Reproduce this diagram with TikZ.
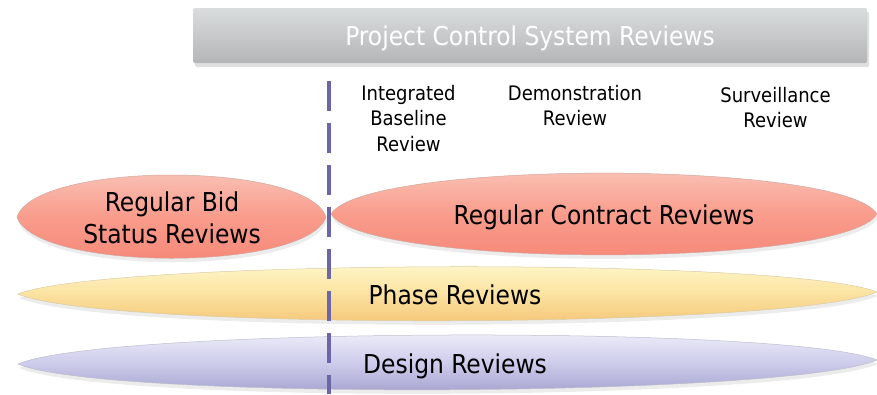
\documentclass[tikz,border=0pt]{standalone}
\usepackage{fontspec}
\setmainfont{DejaVu Sans Condensed}
\usetikzlibrary{shadows}
\definecolor{bantop}{HTML}{DADDDE}
\definecolor{banbot}{HTML}{B3B5B7}
\definecolor{redtop}{HTML}{F9CABE}
\definecolor{redmid}{HTML}{F99C8C}
\definecolor{redbot}{HTML}{F58474}
\definecolor{redline}{HTML}{D0A89F}
\definecolor{yeltop}{HTML}{FFFBD2}
\definecolor{yelmid}{HTML}{FBE2A0}
\definecolor{yelbot}{HTML}{F3BF6E}
\definecolor{yelline}{HTML}{D8CCA8}
\definecolor{blutop}{HTML}{F5F5FD}
\definecolor{blumid}{HTML}{CDCCEB}
\definecolor{blubot}{HTML}{9B99C8}
\definecolor{bluline}{HTML}{BDBDCC}
\definecolor{dashcol}{HTML}{6B66A8}
\begin{document}
\begin{tikzpicture}[x=1pt,y=-1pt]
\useasboundingbox (0,0) rectangle (877,394);
\tikzset{
  banner/.style={rectangle, minimum width=674pt, minimum height=55pt, inner sep=0pt,
    top color=bantop, bottom color=banbot, rounded corners=1.5pt, text=white,
    font=\fontsize{26}{31}\selectfont, text height=19pt, text depth=0pt,
    drop shadow={shadow xshift=2pt, shadow yshift=-4pt, opacity=0.25}},
  lens/.style={line width=0.5pt,
    drop shadow={shadow xshift=1pt, shadow yshift=-4pt, opacity=0.15}},
  redlens/.style={lens, draw=redline, top color=redtop, bottom color=redbot, middle color=redmid},
  yellens/.style={lens, draw=yelline, top color=yeltop, bottom color=yelbot, middle color=yelmid},
  blulens/.style={lens, draw=bluline, top color=blutop, bottom color=blubot, middle color=blumid},
  bigtext/.style={font=\fontsize{26}{31.5}\selectfont, align=center, inner sep=0pt, anchor=north},
  hdrtext/.style={font=\fontsize{20}{25.5}\selectfont, align=center, inner sep=0pt, anchor=north},
  divider/.style={draw=dashcol, line width=4pt, dash pattern=on 30pt off 12pt}
}
% banner
\node[banner] (pcs) at (530,35.5) {Project Control System Reviews};
% review lenses
\path[redlens] (17,217) .. controls (35.5,161) and (307.5,161) .. (326,217)
  .. controls (307.5,272) and (35.5,272) .. (17,217) -- cycle;
\path[redlens] (331,214) .. controls (364,159.5) and (844,159.5) .. (877,214)
  .. controls (844,268.5) and (364,268.5) .. (331,214) -- cycle;
\path[yellens] (18,294) .. controls (104,259) and (791,257) .. (877,292)
  .. controls (791,329) and (104,331) .. (18,294) -- cycle;
\path[blulens] (18,364) .. controls (104,327) and (791,325) .. (877,360)
  .. controls (791,397) and (104,401) .. (18,364) -- cycle;
% texts
\node[hdrtext] (ibr) at (408.5,85) {Integrated\\Baseline\\Review};
\node[hdrtext] (demo) at (575,85) {Demonstration\\Review};
\node[hdrtext] (surv) at (775.5,87) {Surveillance\\Review};
\node[bigtext] (bidt) at (172,192) {Regular Bid\\Status Reviews};
\node[bigtext] (contt) at (604,205) {Regular Contract Reviews};
\node[bigtext] (phaset) at (455,285) {Phase Reviews};
\node[bigtext] (designt) at (455,354) {Design Reviews};
% dashed divider
\coordinate (dtop) at (329,81);
\coordinate (dbot) at (329,394);
\draw[divider] (dtop) -- (dbot);
\end{tikzpicture}
\end{document}
